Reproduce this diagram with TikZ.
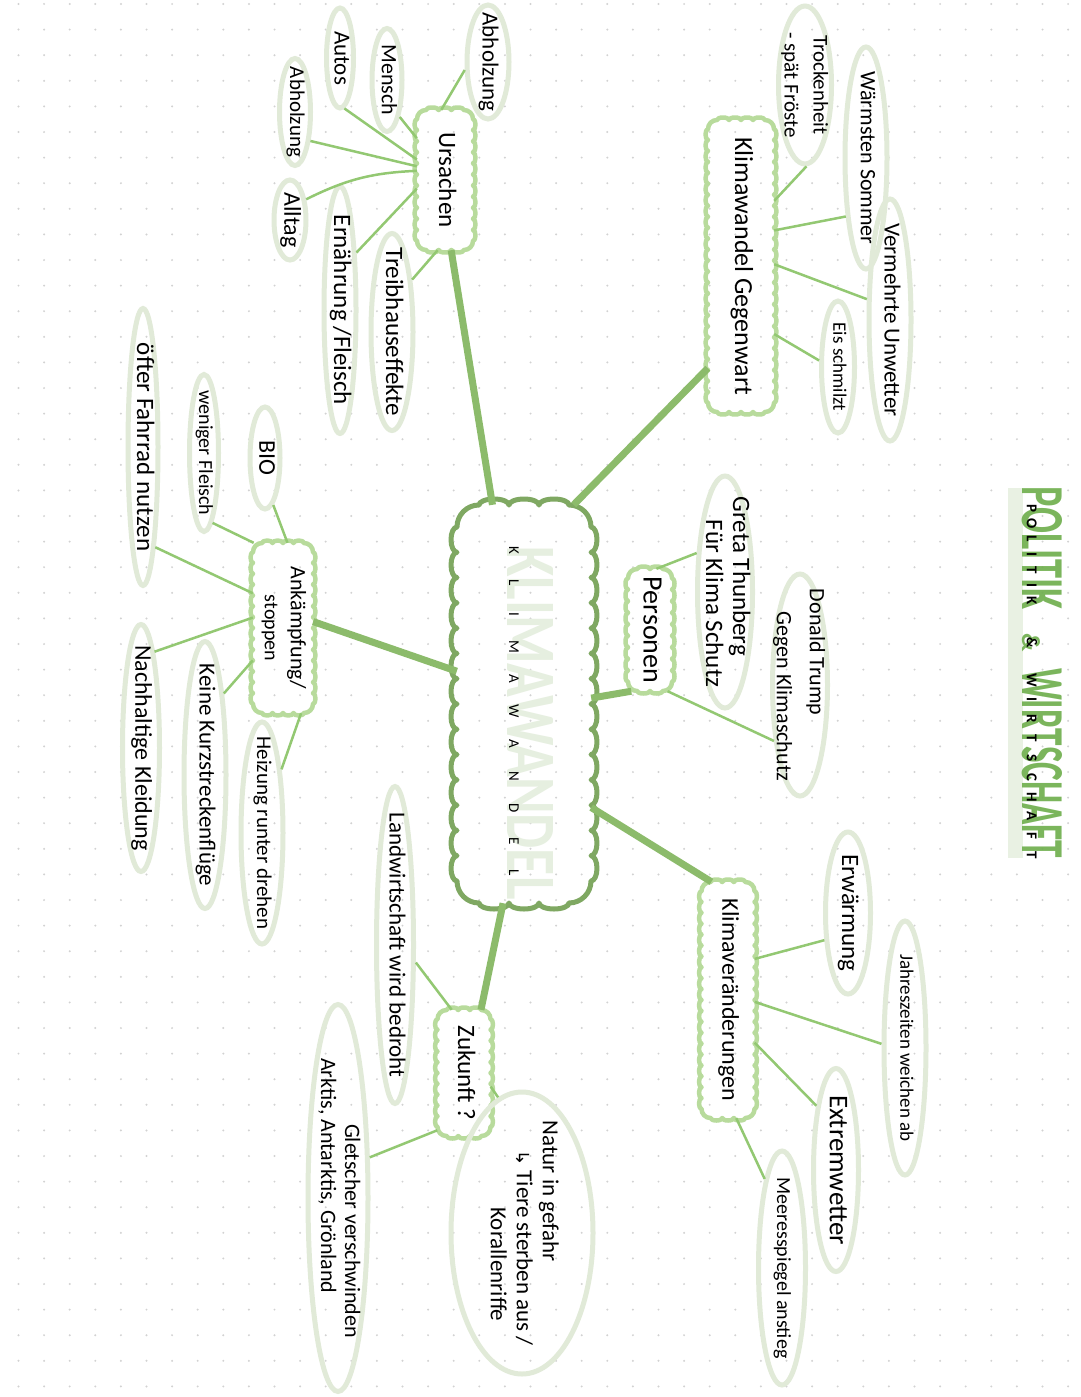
\documentclass[tikz,border=0pt]{standalone}
\usepackage{fontspec}
\setmainfont{Carlito}
\newfontfamily\symf{DejaVu Sans}
\usetikzlibrary{shapes.geometric}
\definecolor{leafc}{HTML}{E1EAD8}
\definecolor{cloudc}{HTML}{B8DB9C}
\definecolor{centc}{HTML}{7FA862}
\definecolor{mainc}{HTML}{8CBB6B}
\definecolor{thinc}{HTML}{93C872}
\definecolor{titlec}{HTML}{6DAE4B}
\definecolor{bandc}{HTML}{E9F1E3}
\definecolor{faintc}{HTML}{E6EFE0}
\definecolor{dotc}{HTML}{D2D2D2}
\newcommand\rtb[1]{\makebox[0pt]{\smash{\raisebox{\dimexpr(\depth-\height)/2\relax}{\rotatebox{-90}{#1}}}}}
\newcommand\rt[4][c]{\rtb{\fontsize{#2}{#3}\selectfont\begin{tabular}{@{}#1@{}}#4\end{tabular}}}
\newcommand\lb[2]{\makebox[#1pt]{#2}}
% scalloped border: #1 style, #2 cx, #3 cy, #4 w, #5 h, #6 corner radius, #7 bump length, #8 amplitude
\newcommand\scal[8]{%
  \pgfmathsetmacro\scW{#4-2*#6}\pgfmathsetmacro\scH{#5-2*#6}%
  \pgfmathtruncatemacro\scNx{max(1,round(\scW/#7))}\pgfmathtruncatemacro\scNy{max(1,round(\scH/#7))}%
  \pgfmathsetmacro\scRx{\scW/\scNx/2}\pgfmathsetmacro\scRy{\scH/\scNy/2}%
  \draw[#1] ({#2-#4/2+#6},{#3+#5/2})
    \foreach \k in {1,...,\scNx}{arc[start angle=180,end angle=0,x radius=\scRx,y radius=#8]}
    arc[start angle=90,end angle=0,radius=#6]
    \foreach \k in {1,...,\scNy}{arc[start angle=90,end angle=-90,x radius=#8,y radius=\scRy]}
    arc[start angle=0,end angle=-90,radius=#6]
    \foreach \k in {1,...,\scNx}{arc[start angle=0,end angle=-180,x radius=\scRx,y radius=#8]}
    arc[start angle=270,end angle=180,radius=#6]
    \foreach \k in {1,...,\scNy}{arc[start angle=270,end angle=90,x radius=#8,y radius=\scRy]}
    arc[start angle=180,end angle=90,radius=#6] -- cycle;}
\begin{document}
\begin{tikzpicture}[x=1pt,y=1pt,
  leaf/.style={ellipse, draw=leafc, line width=5pt, inner sep=0pt},
  box/.style={rectangle, inner sep=0pt},
  cloudline/.style={draw=cloudc, line width=4.5pt, line join=round},
  centline/.style={draw=centc, line width=5pt, line join=round},
  mainl/.style={draw=mainc, line width=7pt},
  thin/.style={draw=thinc, line width=2.5pt},
  txt/.style={inner sep=0pt}]
\useasboundingbox (0,0) rectangle (1080,-1397);
\fill[white] (0,0) rectangle (1080,-1397);
\foreach \i in {0,...,41}{\foreach \j in {0,...,54}{\fill[dotc] ({18.5+25.6*\i},{-4-25.6*\j}) circle (1.1);}}

% title
\node[fill=bandc, minimum width=15pt, minimum height=370pt, inner sep=0pt] (band) at (1015.5,-673) {};
\node[txt, text=titlec, opacity=0.9] (tbig) at (1042,-672.5) {\rtb{\bfseries\resizebox{123pt}{40pt}{POLITIK}\hspace{24pt}{\fontsize{26}{26}\selectfont\&}\hspace{16pt}\resizebox{190pt}{40pt}{WIRTSCHAFT}}};
\node[txt] (tsmall) at (1032,-682.75) {\rtb{\fontsize{15}{15}\selectfont\bfseries\lb{15.5}{P}\lb{15.5}{O}\lb{15.5}{L}\lb{15.5}{I}\lb{15.5}{T}\lb{15.5}{I}\lb{15.5}{K}\hspace{26.5pt}\lb{15.5}{\&}\hspace{19.5pt}\lb{19.5}{W}\lb{19.5}{I}\lb{19.5}{R}\lb{19.5}{T}\lb{19.5}{S}\lb{19.5}{C}\lb{19.5}{H}\lb{19.5}{A}\lb{19.5}{F}\lb{19.5}{T}}};

% central
\node[txt, text=faintc] (Cbig) at (530,-723) {\rtb{\bfseries\resizebox{353pt}{46pt}{KLIMAWANDEL}}};
\node[box, minimum width=134pt, minimum height=398pt] (C) at (524,-704) {};
\scal{centline}{524}{-704}{134}{398}{22}{26}{6}
\node[txt] (Csmall) at (514,-711.5) {\rtb{\fontsize{15}{15}\selectfont\lb{32.3}{K}\lb{32.3}{L}\lb{32.3}{I}\lb{32.3}{M}\lb{32.3}{A}\lb{32.3}{W}\lb{32.3}{A}\lb{32.3}{N}\lb{32.3}{D}\lb{32.3}{E}\lb{32.3}{L}}};

% secondary
\node[box, minimum width=66pt, minimum height=292pt] (G) at (741,-266) {\rt{26}{30}{Klimawandel Gegenwart}};
\scal{cloudline}{741}{-266}{66}{292}{9}{11}{2.5}
\node[box, minimum width=56pt, minimum height=140pt] (U) at (445,-180) {\rt{25}{29}{Ursachen}};
\scal{cloudline}{445}{-180}{56}{140}{9}{11}{2.5}
\node[box, minimum width=44pt, minimum height=122pt] (P) at (650,-630) {\rt{28}{32}{Personen}};
\scal{cloudline}{650}{-630}{44}{122}{9}{11}{2.5}
\node[box, minimum width=53pt, minimum height=236pt] (K) at (728,-1000) {\rt{24}{28}{Klimaveränderungen}};
\scal{cloudline}{728}{-1000}{53}{236}{9}{11}{2.5}
\node[box, minimum width=53pt, minimum height=126pt] (Z) at (464,-1073) {\rt{25}{29}{Zukunft ?}};
\scal{cloudline}{464}{-1073}{53}{126}{9}{11}{2.5}
\node[box, minimum width=60pt, minimum height=170pt] (A) at (283,-628) {\rt{22}{26}{Ankämpfung/\\\fontsize{20}{24}\selectfont stoppen}};
\scal{cloudline}{283}{-628}{60}{170}{9}{11}{2.5}

% leaves
\node[leaf, minimum width=53pt, minimum height=158pt] (Tro) at (805,-85) {\rt{21}{29}{Trockenheit\\- spät Fröste}};
\node[leaf, minimum width=42pt, minimum height=222pt] (Wa) at (866,-158) {\rt{22}{26}{Wärmsten Sommer}};
\node[leaf, minimum width=42pt, minimum height=242pt] (Ve) at (890,-320) {\rt{23}{27}{Vermehrte Unwetter}};
\node[leaf, minimum width=33pt, minimum height=132pt] (Ei) at (838,-367) {\rt{19}{23}{Eis schmilzt}};
\node[leaf, minimum width=42pt, minimum height=114pt] (Ab1) at (488,-62) {\rt{23}{27}{Abholzung}};
\node[leaf, minimum width=30pt, minimum height=103pt] (Me) at (387,-80) {\rt{22}{26}{Mensch}};
\node[leaf, minimum width=27pt, minimum height=100pt] (Au) at (340,-58) {\rt{23}{27}{Autos}};
\node[leaf, minimum width=31pt, minimum height=107pt] (Ab2) at (295,-112) {\rt{21}{25}{Abholzung}};
\node[leaf, minimum width=32pt, minimum height=80pt] (Al) at (290,-220) {\rt{24}{28}{Alltag}};
\node[leaf, minimum width=32pt, minimum height=247pt] (Er) at (340,-310) {\rt{25}{29}{Ernährung /Fleisch}};
\node[leaf, minimum width=42pt, minimum height=197pt] (Tr) at (392,-332) {\rt{25}{29}{Treibhauseffekte}};
\node[leaf, minimum width=55pt, minimum height=232pt] (Gr) at (725,-592) {\rt[l]{25}{27}{Greta Thunberg\\\hspace{23pt}Für Klima Schutz}};
\node[leaf, minimum width=55pt, minimum height=222pt] (Do) at (800,-685) {\rt[l]{22}{33}{Donald Trump\\\hspace{23pt}Gegen Klimaschutz}};
\node[leaf, minimum width=45pt, minimum height=162pt] (Ew) at (848,-913) {\rt{25}{29}{Erwärmung}};
\node[leaf, minimum width=42pt, minimum height=254pt] (Ja) at (905,-1048) {\rt{19}{23}{Jahreszeiten weichen ab}};
\node[leaf, minimum width=45pt, minimum height=203pt] (Ex) at (836,-1170) {\rt{27}{31}{Extremwetter}};
\node[leaf, minimum width=47pt, minimum height=234pt] (Mr) at (782,-1268) {\rt{20}{24}{Meeresspiegel anstieg}};
\node[leaf, minimum width=37pt, minimum height=317pt] (La) at (395,-945) {\rt{23}{27}{Landwirtschaft wird bedroht}};
\node[leaf, minimum width=142pt, minimum height=282pt] (Na) at (522,-1233) {\rt[l]{23}{26}{Natur in gefahr\\\hspace{30pt}{\symf\fontsize{18}{20}\selectfont ↳} Tiere sterben aus /\\\hspace{87pt}Korallenriffe}};
\node[leaf, minimum width=60pt, minimum height=387pt] (Gl) at (338,-1198) {\rt[l]{22}{24}{\hspace{66pt}Gletscher verschwinden\\Arktis, Antarktis, Grönland}};
\node[leaf, minimum width=30pt, minimum height=102pt] (Bi) at (265,-458) {\rt{24}{28}{BIO}};
\node[leaf, minimum width=29pt, minimum height=157pt] (We) at (204,-453) {\rt{20}{24}{weniger Fleisch}};
\node[leaf, minimum width=30pt, minimum height=277pt] (Of) at (143,-447) {\rt{25}{29}{öfter Fahrrad nutzen}};
\node[leaf, minimum width=37pt, minimum height=247pt] (Nk) at (141,-748) {\rt{24}{28}{Nachhaltige Kleidung}};
\node[leaf, minimum width=42pt, minimum height=267pt] (Ke) at (205,-775) {\rt{23}{27}{Keine Kurzstreckenflüge}};
\node[leaf, minimum width=42pt, minimum height=222pt] (He) at (262,-833) {\rt{21}{25}{Heizung runter drehen}};

% main branches
\draw[mainl] (C.76.3) -- (G.252.7);
\draw[mainl] (C.99.3) -- (U.275.1);
\draw[mainl] (C.5.3) -- (P.253.3);
\draw[mainl] (C.-57.9) -- (K.98.9);
\draw[mainl] (C.264.9) -- (Z.75.6);
\draw[mainl] (C.154.4) -- (A.12.2);

% thin connectors
\draw[thin] (G.63.2) -- (Tro.271.4);
\draw[thin] (G.47.5) -- (Wa.251.6);
\draw[thin] (G.3.9) -- (Ve.138.2);
\draw[thin] (G.296.6) -- (Ei.161.6);
\draw[thin] (U.93.8) -- (Ab1.199.7);
\draw[thin] (U.124.2) -- (Me.289.4);
\draw[thin] (U.144.6) -- (Au.275.8);
\draw[thin] (U.154.7) -- (Ab2.298.6);
\draw[thin] (U.162.5) to[bend right=12] (Al.52.9);
\draw[thin] (U.197.5) -- (Er.74.7);
\draw[thin] (U.264.9) -- (Tr.69.0);
\draw[thin] (P.84.1) -- (Gr.126.5);
\draw[thin] (P.286.7) -- (Do.245.2);
\draw[thin] (K.57.4) -- (Ew.229.2);
\draw[thin] (K.356.2) -- (Ja.170.8);
\draw[thin] (K.302.6) -- (Ex.107.9);
\draw[thin] (K.274.6) -- (Mr.101.0);
\draw[thin] (Z.101.3) -- (La.320.8);
\draw[thin] (Z.333.4) -- (Na.100);
\draw[thin] (Z.245.4) -- (Gl.52.9);
\draw[thin] (A.87) -- (Bi.280.5);
\draw[thin] (A.109.6) -- (We.277.3);
\draw[thin] (A.131.3) -- (Of.277.4);
\draw[thin] (A.161.1) -- (Nk.82.4);
\draw[thin] (A.227.3) -- (Ke.77.3);
\draw[thin] (A.282.6) -- (He.73.3);
\end{tikzpicture}
\end{document}
